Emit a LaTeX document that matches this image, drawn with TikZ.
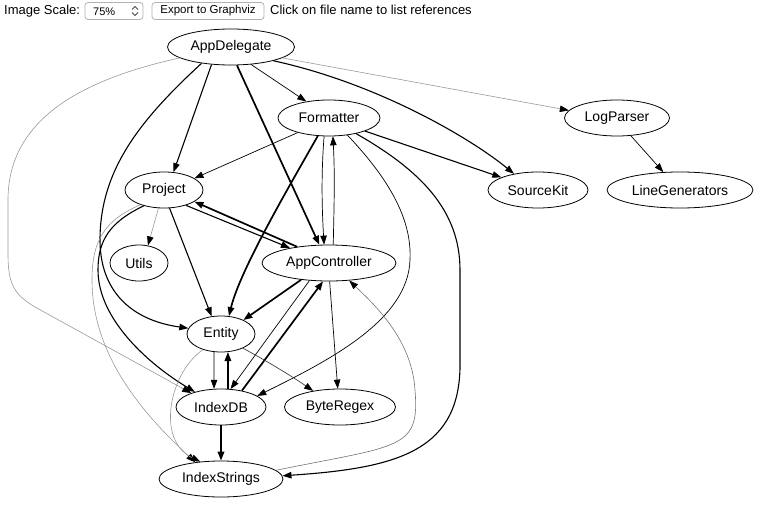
\documentclass[tikz,border=0pt]{standalone}
\usepackage{fontspec}
\setmainfont{Liberation Sans}
\usetikzlibrary{shapes.geometric,arrows.meta}
\begin{document}
\begin{tikzpicture}[x=1pt,y=-1pt,
  nd/.style={draw, ellipse, line width=0.8pt, inner sep=0pt, minimum height=36pt, font=\fontsize{14}{16}\selectfont},
  tip/.style={-{Triangle[length=9pt,width=6.5pt,color=black]}},
  thin e/.style={tip, line width=0.7pt},
  mid e/.style={tip, line width=1.1pt},
  thick e/.style={tip, line width=1.7pt},
  gray e/.style={tip, line width=0.6pt, draw=black!40},
  uibox/.style={draw=black!30, line width=0.8pt, rounded corners=3pt, fill=white, inner sep=0pt, minimum height=17pt},
  uitext/.style={inner sep=0pt, anchor=base west, font=\fontsize{13}{15}\selectfont}
]
\useasboundingbox (0,0) rectangle (763,511);

% top bar
\node[uitext] (lbl) at (4,15) {Image Scale:};
\node[uibox, minimum width=58pt] (sel) at (114,11) {};
\node[uitext, font=\fontsize{11}{13}\selectfont] (pct) at (93,15.5) {75\%};
\draw[line width=0.8pt, black!70] (132,9.5) -- (135,6.5) -- (138,9.5);
\draw[line width=0.8pt, black!70] (132,12.5) -- (135,15.5) -- (138,12.5);
\node[uibox, minimum width=112pt, font=\fontsize{11.5}{13}\selectfont] (btn) at (208,11) {Export to Graphviz};
\node[uitext] (hint) at (270,15) {Click on file name to list references};

% nodes
\node[nd, minimum width=127pt] (ad) at (231,47) {AppDelegate};
\node[nd, minimum width=102pt] (fmt) at (329,118) {Formatter};
\node[nd, minimum width=105pt] (lp) at (617,118) {LogParser};
\node[nd, minimum width=78pt] (proj) at (164,190) {Project};
\node[nd, minimum width=100pt] (sk) at (538,190) {SourceKit};
\node[nd, minimum width=146pt] (lg) at (680,190) {LineGenerators};
\node[nd, minimum width=58pt] (ut) at (139,263) {Utils};
\node[nd, minimum width=134pt] (ac) at (329,263) {AppController};
\node[nd, minimum width=68pt] (ent) at (221,334) {Entity};
\node[nd, minimum width=90pt] (idb) at (221,407) {IndexDB};
\node[nd, minimum width=111pt] (br) at (340,407) {ByteRegex};
\node[nd, minimum width=124pt] (is) at (221,479) {IndexStrings};

% AppDelegate
\draw[thin e] (ad.319) -- (fmt.144);
\draw[mid e] (ad.222) -- (proj.62);
\draw[thick e] (ad.288) -- (ac.118);
\draw[mid e] (ad.342) .. controls (376,83) and (469,137) .. (sk.146);
\draw[gray e] (ad.348) -- (lp.171);
\draw[gray e] (ad.192) .. controls (80,80) and (8,120) .. (8,200) -- (8,255) .. controls (8,285) and (15,295) .. (35,307) -- (idb.155);
\draw[mid e] (ad.209) .. controls (140,120) and (100,170) .. (100,240) .. controls (100,290) and (130,320) .. (ent.170);

% Formatter
\draw[thin e] (fmt.205) -- (proj.21);
\draw[thin e] (fmt.255) .. controls (321,175) and (322,210) .. (ac.105);
\draw[thin e] (ac.77) .. controls (334,210) and (335,175) .. (fmt.282);
\draw[thick e] (fmt.238) .. controls (290,185) and (240,270) .. (ent.66);
\draw[mid e] (fmt.340) -- (sk.161);
\draw[thin e] (fmt.317) .. controls (390,180) and (412,220) .. (410,260) .. controls (408,320) and (330,360) .. (idb.17);
\draw[mid e] (fmt.330) .. controls (420,170) and (460,210) .. (460,270) -- (460,360) .. controls (462,450) and (400,468) .. (is.3);

% Project
\draw[gray e] (proj.253) -- (ut.63);
\draw[mid e] (proj.287) -- (ent.118);
\draw[mid e] (proj.325) -- (ac.159);
\draw[thick e] (ac.153) -- (proj.339);
\draw[mid e] (proj.218) .. controls (110,222) and (98,240) .. (98,270) .. controls (98,320) and (150,365) .. (idb.150);
\draw[gray e] (proj.212) .. controls (105,220) and (92,240) .. (92,280) .. controls (92,360) and (150,420) .. (is.147);

% AppController
\draw[thick e] (ac.211) -- (ent.32);
\draw[thin e] (ac.222) -- (idb.62);
\draw[thick e] (idb.38) -- (ac.252);
\draw[thin e] (ac.272) -- (br.97);

% Entity
\draw[thin e] (ent.249) -- (idb.111);
\draw[thick e] (idb.69) -- (ent.291);
\draw[thin e, draw=black!75] (ent.327) .. controls (265,360) and (290,375) .. (br.149);
\draw[gray e] (ent.221) .. controls (170,372) and (155,440) .. (is.140);

% IndexDB / IndexStrings
\draw[thick e] (idb) -- (is);
\draw[gray e, draw=black!55] (is.9) .. controls (400,445) and (420,450) .. (415,390) .. controls (412,340) and (375,305) .. (ac.319);

% LogParser
\draw[thin e] (lp.308) -- (lg.133);
\end{tikzpicture}
\end{document}
